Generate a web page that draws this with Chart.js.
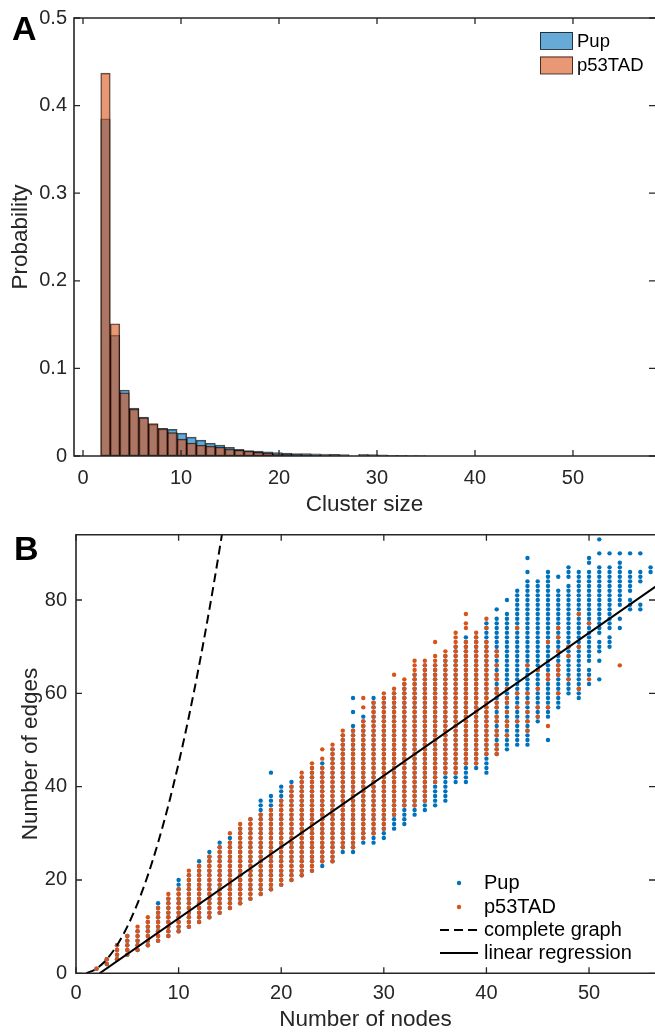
<!DOCTYPE html>
<html>
<head>
<meta charset="utf-8">
<script src="https://cdn.jsdelivr.net/npm/chart.js@4.4.1/dist/chart.umd.min.js"></script>
<style>
  body { margin: 0; background: #fff; width: 655px; height: 1032px; overflow: hidden; }
  canvas { display: block; }
  #wrapA { position: absolute; left: 0; top: 0; }
  #wrapB { position: absolute; left: 0; top: 520px; }
</style>
</head>
<body>
<div id="wrapA"><canvas id="chartA" width="655" height="520"></canvas></div>
<div id="wrapB"><canvas id="chartB" width="655" height="512"></canvas></div>
<script>
// ---- Panel A data: cluster size histogram ----
const binStart = 1.806;
const binWidth = 0.975;
const pupProb = [0.385, 0.138, 0.0753, 0.0548, 0.0445, 0.0361, 0.0316, 0.0304, 0.0262, 0.0216,
    0.0182, 0.0146, 0.0125, 0.0098, 0.0075, 0.0062, 0.0055, 0.0048, 0.0040, 0.0032,
    0.0028, 0.0027, 0.0024, 0.0021, 0.0018, 0.0016, 0, 0.0019, 0.0017, 0.0012,
    0.0008, 0.0008, 0.0004, 0.0004];
const p53Prob = [0.437, 0.151, 0.0722, 0.0536, 0.0437, 0.0369, 0.0310, 0.0266, 0.0193, 0.0148,
    0.0124, 0.0112, 0.0100, 0.0078, 0.0066, 0.0055, 0.0042, 0.0032, 0.0025, 0.0020,
    0.0016, 0.0012, 0.0011, 0.0008, 0.0007, 0.0006, 0, 0.0005, 0.0004, 0.0002];
const xTicksA = [0, 10, 20, 30, 40, 50];
const yTicksA = [0, 0.1, 0.2, 0.3, 0.4, 0.5];

// ---- Panel B data: nodes vs edges ----
// dense columns: node count, lowest and highest edge count
const p53SegN  = [2, 3, 4, 5, 6, 7, 8, 9, 10, 11, 12, 13, 14, 15, 15, 16, 17, 18, 19, 20,
    21, 22, 23, 24, 24, 24, 25, 26, 27, 28, 28, 28, 29, 30, 31, 31, 32, 33, 34, 35,
    35, 36, 37, 38, 38, 38, 39, 40, 40, 40];
const p53SegLo = [1, 2, 3, 4, 5, 6, 7, 8, 9, 10, 11, 12, 13, 14, 30, 15, 16, 17, 18, 19,
    20, 21, 22, 24, 46, 48, 24, 27, 27, 29, 57, 59, 30, 31, 34, 64, 36, 36, 37, 41,
    71, 43, 43, 45, 74, 77, 45, 47, 74, 76];
const p53SegHi = [1, 3, 6, 8, 10, 12, 14, 17, 18, 22, 23, 25, 27, 28, 30, 32, 33, 34, 35, 37,
    40, 43, 45, 44, 46, 48, 49, 52, 52, 54, 57, 59, 58, 60, 61, 64, 63, 67, 67, 68,
    71, 69, 73, 71, 75, 77, 73, 71, 74, 76];
// scattered p53TAD points among the Pup columns
const p53DotN = [41, 41, 41, 41, 41, 41, 41, 41, 41, 41, 41, 41, 41, 41, 41, 41,
    42, 42, 42, 42, 42, 42, 42, 43, 43, 43, 43, 44, 44, 44, 44, 44, 44,
    45, 45, 45, 45, 46, 46, 46, 46, 46, 47, 47, 47, 47, 47, 47, 47,
    48, 48, 48, 49, 49, 49, 50, 50, 53];
const p53DotE = [69, 68, 66, 64, 63, 61, 60, 58, 57, 55, 54, 52, 51, 49, 48, 47,
    61, 59, 58, 56, 54, 53, 51, 74, 60, 57, 54, 66, 60, 58, 56, 54, 52,
    65, 61, 57, 55, 71, 64, 63, 57, 53, 74, 72, 69, 66, 65, 64, 60,
    70, 68, 63, 77, 70, 61, 75, 63, 66];
const pupSegN  = [2, 3, 4, 5, 6, 7, 8, 9, 10, 11, 12, 13, 14, 15, 16, 17, 18, 19, 19, 20,
    21, 22, 23, 24, 25, 26, 27, 27, 27, 28, 29, 30, 31, 32, 33, 34, 35, 36, 37, 38,
    39, 40, 41, 41, 42, 42, 43, 44, 44, 44, 45, 46, 46, 47, 47, 48, 48, 49, 50, 50,
    50, 50, 51, 51, 51, 51, 51, 51, 52, 52, 52, 53, 53, 53, 53, 54, 54, 54, 55, 55,
    55, 56];
const pupSegLo = [1, 2, 3, 4, 5, 6, 7, 8, 9, 10, 11, 12, 13, 14, 15, 16, 17, 18, 43, 19,
    20, 21, 22, 23, 24, 26, 26, 56, 59, 28, 28, 29, 31, 32, 34, 35, 36, 37, 41, 41,
    44, 43, 47, 78, 48, 80, 49, 49, 86, 89, 54, 50, 55, 57, 85, 60, 85, 59, 62, 64,
    67, 88, 63, 67, 69, 73, 90, 93, 70, 74, 90, 74, 76, 79, 90, 78, 82, 90, 78, 84,
    90, 86];
const pupSegHi = [1, 3, 6, 8, 9, 11, 15, 16, 20, 21, 24, 26, 28, 29, 31, 33, 37, 38, 43, 40,
    41, 42, 44, 45, 48, 51, 53, 56, 59, 55, 59, 59, 60, 62, 64, 66, 66, 68, 70, 72,
    72, 75, 76, 78, 77, 80, 82, 84, 86, 89, 84, 50, 86, 82, 85, 83, 87, 86, 62, 65,
    86, 89, 63, 67, 71, 87, 90, 93, 72, 87, 90, 74, 76, 88, 90, 80, 86, 90, 79, 86,
    90, 87];
const completeN = [1, 2, 3, 4, 5, 6, 7, 8, 9, 10, 11, 12, 13, 14, 15];
const completeE = [0, 1, 3, 6, 10, 15, 21, 28, 36, 45, 55, 66, 78, 91, 105];
const regN = [2.3, 56.5];
const regE = [0, 82.9];
const xTicksB = [0, 10, 20, 30, 40, 50];
const yTicksB = [0, 20, 40, 60, 80];

// ---- styling ----
const FONT = "'Liberation Sans', Arial, Helvetica, sans-serif";
const AXIS = '#262626';
const BLUE = '#0072BD';
const ORANGE = '#D95319';
Chart.defaults.font.family = FONT;
Chart.defaults.color = AXIS;

// expand a column (lo..hi) into one point per edge count
function columnPoints(nArr, loArr, hiArr) {
    const pts = [];
    nArr.forEach((n, i) => {
        for (let e = loArr[i]; e <= hiArr[i]; e++) pts.push({x: n, y: e});
    });
    return pts;
}

function histPoints(probs) {
    return probs
        .map((p, k) => ({x: binStart + binWidth * (k + 0.5), y: p}))
        .filter(pt => pt.y > 0);
}

// box with inward ticks, matlab style
const framePlugin = {
    id: 'frame',
    afterDraw(chart) {
        const {ctx, chartArea: a} = chart;
        const xs = chart.scales.x, ys = chart.scales.y;
        ctx.save();
        ctx.strokeStyle = AXIS;
        ctx.lineWidth = 1.6;
        ctx.beginPath();
        ctx.moveTo(a.right, a.bottom); ctx.lineTo(a.left, a.bottom);
        ctx.lineTo(a.left, a.top); ctx.lineTo(a.right, a.top);
        ctx.stroke();
        ctx.lineWidth = 1.3;
        ctx.beginPath();
        xs.ticks.forEach(t => {
            const px = xs.getPixelForValue(t.value);
            ctx.moveTo(px, a.bottom); ctx.lineTo(px, a.bottom - 6);
            ctx.moveTo(px, a.top); ctx.lineTo(px, a.top + 6);
        });
        ys.ticks.forEach(t => {
            const py = ys.getPixelForValue(t.value);
            ctx.moveTo(a.left, py); ctx.lineTo(a.left + 6, py);
            ctx.moveTo(a.right, py); ctx.lineTo(a.right - 6, py);
        });
        ctx.stroke();
        ctx.restore();
    }
};

function fixedAxis(size, horizontal) {
    return (scale) => {
        if (horizontal) scale.height = size; else scale.width = size;
        scale.paddingTop = scale.paddingBottom = scale.paddingLeft = scale.paddingRight = 0;
    };
}

function setTicks(values) {
    return (scale) => { scale.ticks = values.map(v => ({value: v})); };
}

// Panel A
const legendA = {
    id: 'legendA',
    afterDraw(chart) {
        const ctx = chart.ctx;
        ctx.save();
        ctx.font = `bold 34px ${FONT}`;
        ctx.fillStyle = '#000';
        ctx.textBaseline = 'alphabetic';
        ctx.fillText('A', 12, 40);

        ctx.font = `18.5px ${FONT}`;
        ctx.textBaseline = 'middle';
        const rows = [chart.data.datasets[0], chart.data.datasets[1]];
        rows.forEach((ds, i) => {
            const top = 32 + i * 24.5;
            ctx.fillStyle = ds.backgroundColor;
            ctx.fillRect(540, top, 33, 17.5);
            ctx.strokeStyle = 'rgba(0,0,0,0.7)';
            ctx.lineWidth = 1;
            ctx.strokeRect(540.5, top + 0.5, 32, 17);
            ctx.fillStyle = '#000';
            ctx.fillText(ds.label, 577, top + 9.5);
        });
        ctx.restore();
    }
};

new Chart(document.getElementById('chartA'), {
    type: 'bar',
    data: {
        datasets: [{
            label: 'Pup',
            data: histPoints(pupProb),
            backgroundColor: 'rgba(0, 114, 189, 0.6)',
            borderColor: 'rgba(0, 0, 0, 0.7)',
            borderWidth: 1,
            borderSkipped: false,
            barPercentage: 1,
            categoryPercentage: 1,
            grouped: false,
            order: 1
        }, {
            label: 'p53TAD',
            data: histPoints(p53Prob),
            backgroundColor: 'rgba(217, 83, 25, 0.6)',
            borderColor: 'rgba(0, 0, 0, 0.7)',
            borderWidth: 1,
            borderSkipped: false,
            barPercentage: 1,
            categoryPercentage: 1,
            grouped: false,
            order: 0
        }]
    },
    options: {
        responsive: false,
        devicePixelRatio: 1,
        animation: false,
        events: [],
        layout: {autoPadding: false, padding: {top: 18, left: 0, right: 0, bottom: 0}},
        plugins: {legend: {display: false}, tooltip: {enabled: false}},
        scales: {
            x: {
                type: 'linear',
                min: -0.92,
                max: 58.37,
                offset: false,
                grid: {display: false, drawTicks: false},
                border: {display: false},
                afterBuildTicks: setTicks(xTicksA),
                afterFit: fixedAxis(64, true),
                ticks: {font: {size: 20}, padding: 10, autoSkip: false, maxRotation: 0, color: AXIS},
                title: {display: true, text: 'Cluster size', font: {size: 22.5}, color: AXIS,
                    padding: {top: 0, bottom: 1.5}}
            },
            y: {
                min: 0,
                max: 0.5,
                grid: {display: false, drawTicks: false},
                border: {display: false},
                afterBuildTicks: setTicks(yTicksA),
                afterFit: fixedAxis(74, false),
                ticks: {font: {size: 20}, padding: 7, autoSkip: false, color: AXIS,
                    callback: v => String(v)},
                title: {display: true, text: 'Probability', font: {size: 22.5}, color: AXIS,
                    padding: {top: 7.5, bottom: 0}}
            }
        }
    },
    plugins: [framePlugin, legendA]
});

// Panel B
const legendB = {
    id: 'legendB',
    afterDraw(chart) {
        const ctx = chart.ctx;
        const ds = chart.data.datasets;
        ctx.save();
        ctx.font = `bold 34px ${FONT}`;
        ctx.fillStyle = '#000';
        ctx.textBaseline = 'alphabetic';
        ctx.fillText('B', 14, 40);

        ctx.font = `20px ${FONT}`;
        ctx.textBaseline = 'middle';
        const rowY = [363, 387, 410, 433];
        ds.forEach((d, i) => {
            const y = rowY[i];
            if (d.showLine) {
                ctx.strokeStyle = d.borderColor;
                ctx.lineWidth = d.borderWidth;
                ctx.setLineDash(d.borderDash || []);
                ctx.beginPath();
                ctx.moveTo(440, y); ctx.lineTo(478, y);
                ctx.stroke();
                ctx.setLineDash([]);
            } else {
                ctx.fillStyle = d.backgroundColor;
                ctx.beginPath();
                ctx.arc(459, y, d.pointRadius, 0, Math.PI * 2);
                ctx.fill();
            }
            ctx.fillStyle = '#000';
            ctx.fillText(d.label, 484, y);
        });
        ctx.restore();
    }
};

const pupPoints = columnPoints(pupSegN, pupSegLo, pupSegHi);
const p53Points = columnPoints(p53SegN, p53SegLo, p53SegHi)
    .concat(p53DotN.map((n, i) => ({x: n, y: p53DotE[i]})));

new Chart(document.getElementById('chartB'), {
    type: 'scatter',
    data: {
        datasets: [{
            label: 'Pup',
            data: pupPoints,
            backgroundColor: BLUE,
            borderWidth: 0,
            pointRadius: 2.2,
            order: 3
        }, {
            label: 'p53TAD',
            data: p53Points,
            backgroundColor: ORANGE,
            borderWidth: 0,
            pointRadius: 2.2,
            order: 2
        }, {
            label: 'complete graph',
            data: completeN.map((n, i) => ({x: n, y: completeE[i]})),
            showLine: true,
            borderColor: '#000',
            borderWidth: 2,
            borderDash: [9, 5],
            pointRadius: 0,
            cubicInterpolationMode: 'monotone',
            order: 1
        }, {
            label: 'linear regression',
            data: regN.map((n, i) => ({x: n, y: regE[i]})),
            showLine: true,
            borderColor: '#000',
            borderWidth: 2,
            pointRadius: 0,
            order: 0
        }]
    },
    options: {
        responsive: false,
        devicePixelRatio: 1,
        animation: false,
        events: [],
        layout: {autoPadding: false, padding: {top: 14.7, left: 0, right: 0, bottom: 0}},
        plugins: {legend: {display: false}, tooltip: {enabled: false}},
        scales: {
            x: {
                type: 'linear',
                min: 0,
                max: 56.43,
                grid: {display: false, drawTicks: false},
                border: {display: false},
                afterBuildTicks: setTicks(xTicksB),
                afterFit: fixedAxis(58.7, true),
                ticks: {font: {size: 20}, padding: 8, autoSkip: false, maxRotation: 0, color: AXIS},
                title: {display: true, text: 'Number of nodes', font: {size: 22.5}, color: AXIS,
                    padding: {top: 0, bottom: -1}}
            },
            y: {
                min: 0,
                max: 94,
                grid: {display: false, drawTicks: false},
                border: {display: false},
                afterBuildTicks: setTicks(yTicksB),
                afterFit: fixedAxis(76, false),
                ticks: {font: {size: 20}, padding: 9, autoSkip: false, color: AXIS},
                title: {display: true, text: 'Number of edges', font: {size: 22.5}, color: AXIS,
                    padding: {top: 17, bottom: 0}}
            }
        }
    },
    plugins: [framePlugin, legendB]
});
</script>
</body>
</html>
